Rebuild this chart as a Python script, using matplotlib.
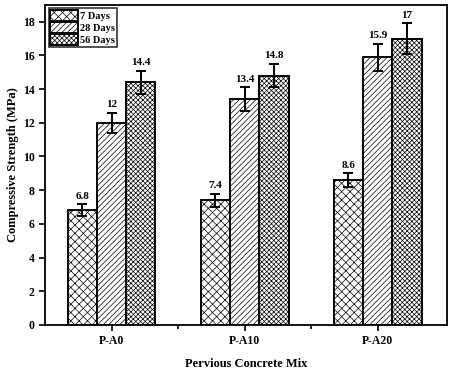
import numpy as np
import matplotlib.pyplot as plt

plt.rcParams['font.family'] = ['Liberation Serif', 'DejaVu Serif']
plt.rcParams['hatch.linewidth'] = 0.5
plt.rcParams['hatch.color'] = '#333333'

mixes = ['P-A0', 'P-A10', 'P-A20']
series = ['7 Days', '28 Days', '56 Days']
strength = [
    [6.8, 7.4, 8.6],
    [12.0, 13.4, 15.9],
    [14.4, 14.8, 17.0],
]
errors = [
    [0.35, 0.4, 0.4],
    [0.6, 0.7, 0.8],
    [0.7, 0.7, 0.9],
]
labels = [
    ['6.8', '7.4', '8.6'],
    ['12', '13.4', '15.9'],
    ['14.4', '14.8', '17'],
]
hatches = ['xxxx', '//////', 'xxxxxxx']

fig = plt.figure(figsize=(4.5, 3.73), dpi=100)
ax = fig.add_axes([0.1, 0.129, 0.893, 0.858])

x = np.arange(len(mixes))
w = 0.22
for i, name in enumerate(series):
    pos = x + (i - 1) * w
    ax.bar(pos, strength[i], w, color='white', edgecolor='black',
           linewidth=1.4, hatch=hatches[i], label=name, zorder=2)
    ax.errorbar(pos, strength[i], yerr=errors[i], fmt='none', ecolor='black',
                elinewidth=1.4, capsize=3.5, capthick=1.4, zorder=3)
    for p, v, e, t in zip(pos, strength[i], errors[i], labels[i]):
        ax.text(p, v + e + 0.2, t, ha='center', va='bottom',
                fontsize=8, fontweight='bold')

ax.set_xlim(-0.5, 2.52)
ax.set_ylim(0, 19)
ax.set_yticks(np.arange(0, 19, 2))
ax.set_xticks(x)
ax.set_xticklabels(mixes)
ax.set_xticks([0.5, 1.5], minor=True)
ax.tick_params(axis='both', which='both', direction='out', width=1.2, labelsize=8.5)
ax.tick_params(axis='both', which='major', length=4)
ax.tick_params(axis='x', which='minor', length=3)
for lab in ax.get_xticklabels() + ax.get_yticklabels():
    lab.set_fontweight('bold')
for s in ax.spines.values():
    s.set_linewidth(1.3)

ax.set_xlabel('Pervious Concrete Mix', fontsize=9, fontweight='bold', labelpad=8)
ax.set_ylabel('Compressive Strength (MPa)', fontsize=9, fontweight='bold', labelpad=3)

leg = ax.legend(loc='upper left', frameon=True, fancybox=False,
                edgecolor='black', handlelength=2.7, handleheight=1.25,
                borderpad=0.15, labelspacing=0.1, handletextpad=0.2,
                borderaxespad=0.35, prop={'weight': 'bold', 'size': 7.5})
leg.get_frame().set_linewidth(1.2)

fig.savefig('out.png', dpi=100)
